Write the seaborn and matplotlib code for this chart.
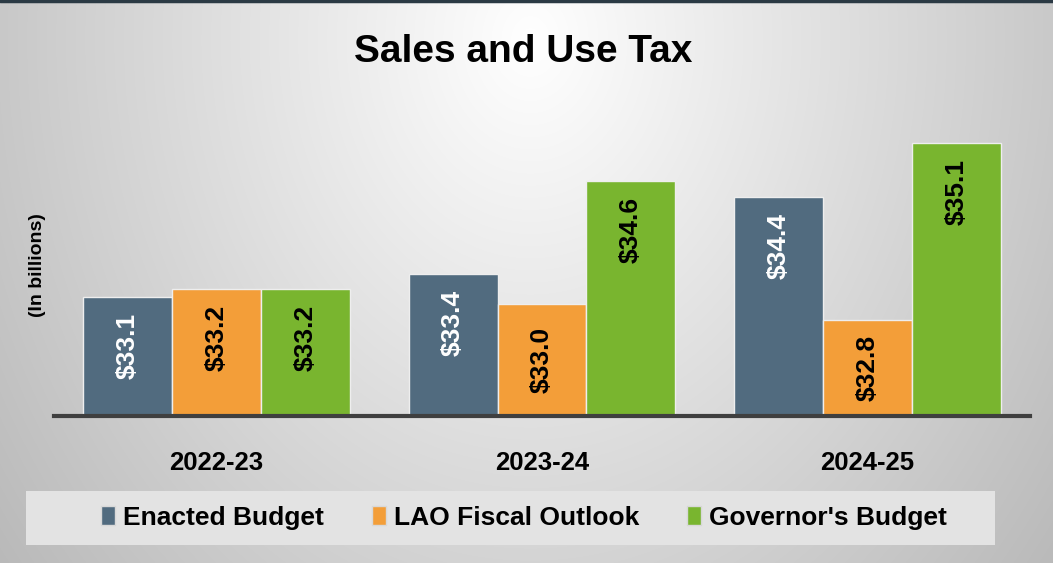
import numpy as np
import pandas as pd
import matplotlib
matplotlib.use("Agg")
import matplotlib.pyplot as plt
from matplotlib.patches import Patch, Rectangle
import seaborn as sns

# ── Data ──────────────────────────────────────────────────────────────────────
years    = ["2022-23", "2023-24", "2024-25"]
series   = ["Enacted Budget", "LAO Fiscal Outlook", "Governor's Budget"]
enacted  = [33.1, 33.4, 34.4]
lao      = [33.2, 33.0, 32.8]
governor = [33.2, 34.6, 35.1]

# ── Theme ─────────────────────────────────────────────────────────────────────
COLORS   = ["#516b7f", "#f39e39", "#79b52f"]
LBL_COL  = ["white", "black", "black"]
FONT     = ["Liberation Sans", "DejaVu Sans"]

sns.set_theme(style="white")
plt.rcParams["font.family"] = FONT
plt.rcParams["text.color"] = "black"
plt.rcParams["xtick.color"] = "black"

df = pd.DataFrame({
    "Year":   years * 3,
    "Series": [s for s in series for _ in years],
    "Value":  enacted + lao + governor,
})

W, H = 1053, 563
fig = plt.figure(figsize=(W / 100, H / 100), dpi=100)

# ── Background gradient ──────────────────────────────────────────────────────
bg = fig.add_axes([0, 0, 1, 1], zorder=-10)
xx, yy = np.meshgrid(np.arange(W), np.arange(H))
r = np.sqrt(((xx - 530) / 600) ** 2 + ((yy - 40) / 750) ** 2)
g = np.clip(255 - 62 * r, 170, 255) / 255
bg.imshow(np.dstack([g, g, g]), aspect="auto", extent=[0, W, H, 0])
bg.plot([0, W], [1, 1], color="#2b3a44", lw=2.5)
bg.set_xlim(0, W)
bg.set_ylim(H, 0)
bg.axis("off")

# ── Bars ──────────────────────────────────────────────────────────────────────
ax = fig.add_axes([54 / W, 147 / H, 976 / W, 316 / H])
ax.patch.set_alpha(0)
sns.barplot(data=df, x="Year", y="Value", hue="Series", hue_order=series,
            palette=COLORS, saturation=1, width=0.82, gap=0,
            edgecolor="#eeeeee", linewidth=1, legend=False, ax=ax)

ybot, ytop = 31.55, 31.55 + 316 / 77
ax.set_ylim(ybot, ytop)
ax.set_xlim(-0.5, 2.5)

# value labels: just inside the top, centred when the bar is too short
offset, lab_len = 0.21, 1.04
for cont, col in zip(ax.containers, LBL_COL):
    for bar in cont:
        v = bar.get_height()
        xc = bar.get_x() + bar.get_width() / 2
        if v - ybot < lab_len + 2 * offset:
            y, va = (v + ybot) / 2, "center"
        else:
            y, va = v - offset, "top"
        ax.text(xc, y, f"${v:.1f}", rotation=90, ha="center", va=va,
                color=col, fontsize=19, fontweight="bold")

for s in ["top", "right", "left"]:
    ax.spines[s].set_visible(False)
ax.spines["bottom"].set_color("#3f3f3f")
ax.spines["bottom"].set_linewidth(3)
ax.spines["bottom"].set_zorder(5)
ax.set_yticks([])
ax.set_xlabel("")
ax.set_ylabel("")
ax.tick_params(axis="x", length=0, pad=25)
for t in ax.get_xticklabels():
    t.set_fontsize(18.5)
    t.set_fontweight("bold")

# ── Titles ────────────────────────────────────────────────────────────────────
fig.text(523 / W, 1 - 52 / H, "Sales and Use Tax", ha="center", va="center",
         fontsize=28, fontweight="bold")
fig.text(38 / W, 1 - 265 / H, "(In billions)", ha="center", va="center",
         rotation=90, fontsize=14, fontweight="bold")

# ── Legend ────────────────────────────────────────────────────────────────────
fig.patches.append(Rectangle((26 / W, 18 / H), 969 / W, 54 / H,
                             transform=fig.transFigure, facecolor="#e3e3e3",
                             edgecolor="none", zorder=0))
handles = [Patch(facecolor=c, edgecolor="#d8d8d8", linewidth=1) for c in COLORS]
fig.legend(handles, series, loc="center", bbox_to_anchor=(524 / W, 1 - 518 / H),
           ncol=3, frameon=False, handlelength=0.55, handleheight=0.75,
           handletextpad=0.3, columnspacing=1.8,
           prop={"weight": "bold", "size": 19})

plt.savefig("out.png", dpi=100)
